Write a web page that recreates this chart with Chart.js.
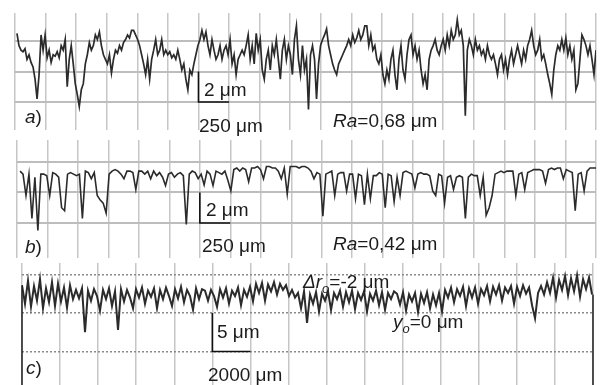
<!DOCTYPE html>
<html>
<head>
<meta charset="utf-8">
<script src="https://cdn.jsdelivr.net/npm/chart.js@4.4.1/dist/chart.umd.min.js"></script>
<style>
  html, body { margin: 0; padding: 0; background: #fff; }
  body { width: 606px; height: 385px; position: relative; overflow: hidden; }
  canvas { position: absolute; left: 0; }
</style>
</head>
<body>
<canvas id="chartA" width="606" height="136" style="top:0px"></canvas>
<canvas id="chartB" width="606" height="126" style="top:136px"></canvas>
<canvas id="chartC" width="606" height="123" style="top:262px"></canvas>
<script>
// profile heights in µm left to right
const profileA = [
  0.5,-0.3,-0.6,-0.7,-0.5,-1.2,-0.9,-1.4,-1.7,-2.5,-3.8,-2.2,
  0.4,-0.6,0.4,-1.1,-0.6,-1.4,-0.9,-1.0,-0.7,-1.1,-0.3,-0.6,0.1,-3.0,-1.2,-0.3,-1.5,-2.8,-3.5,-4.3,-3.2,-2.8,-1.5,-0.9,
  -0.1,-0.6,-0.3,0.4,0.1,0.6,-0.3,-0.9,-1.2,-1.5,-0.9,-2.1,-1.2,-0.6,-0.8,-0.3,-0.6,-0.1,0.1,0.4,0.2,0.7,0.7,0.4,
  0.1,-0.3,-0.9,-1.5,-2.2,-1.2,-2.5,-1.2,-0.6,0.1,-0.9,-0.6,0.1,-0.9,-0.6,-0.9,-0.7,-1.1,-0.9,-1.2,-0.6,-1.2,-1.9,-1.5,
  -2.5,-3.2,-1.9,-2.2,-1.5,-0.9,-0.3,0.1,0.7,0.1,0.6,-0.3,-0.9,0.1,-0.6,-1.2,-0.9,-0.3,-1.2,-0.6,-0.3,-0.9,0.1,-1.5,
  -0.9,-2.2,-1.2,-0.9,-0.6,-0.9,-0.3,0.4,-1.2,-0.3,-1.5,0.5,-0.6,0.1,-1.9,-2.5,-1.2,-0.6,-1.9,-0.3,-0.9,0.1,-1.2,-2.5,
  -0.6,0.1,-1.2,-0.3,-0.9,-2.2,0.1,1.0,-1.2,-2.2,-0.3,
  -1.9,-1.2,-4.5,-0.9,-0.3,-1.2,-3.8,-1.5,-0.3,0.1,0.4,0.8,-0.3,-0.9,-1.5,-1.9,-2.2,-1.5,-1.2,-0.9,-0.6,-0.3,0.1,-0.3,
  0.4,-0.1,0.2,0.7,0.1,0.4,1.0,1.0,-0.3,0.4,-0.6,-0.3,-1.2,-1.5,-0.9,-2.2,-2.8,-1.9,-2.5,-1.2,-0.6,-2.2,-3.2,-1.2,
  -0.3,-1.9,-2.5,-0.9,0.1,0.4,-0.9,-0.3,-1.2,-0.6,-1.9,-2.8,-2.2,-3.2,-1.2,-0.6,-0.3,0.1,-0.6,-0.9,-0.3,0.1,-0.6,0.4,
  -0.3,0.7,0.1,0.4,1.4,0.4,0.7,-0.3,-4.9,-0.6,0.1,-0.3,-0.9,0.1,-0.6,-0.3,-0.9,-0.6,-1.2,-0.3,-0.9,-1.2,-0.9,-1.5,
  -2.2,-1.2,-0.9,-1.9,-1.2,-2.2,-1.2,-0.6,-1.5,-0.9,-0.3,-0.9,-1.5,-0.6,-1.2,-0.3,0.1,0.7,-0.3,-0.9,-0.6,0.1,-1.2,-0.9,
  -1.5,-2.2,-2.8,-3.5,-1.9,-0.9,-0.3,-0.6,0.1,-0.6,0.2,-0.9,-0.3,-1.2,-0.6,-3.2,-2.8,-1.2,0.4,0.1,-0.3,-0.9,-0.3,-1.2,
  -2.2,-0.6
];

const profileB = [
  -0.6,-0.8,-2.2,-0.8,-3.7,-1.0,-4.5,-0.8,-0.8,-0.9,-2.2,-0.7,-0.8,-1.0,-3.0,-3.2,-0.8,-0.7,-0.8,-0.9,-0.8,-3.7,
  -0.6,-0.7,-1.1,-0.7,-2.2,-2.5,-2.7,-3.35,-0.8,-0.6,-0.5,-0.6,-0.8,-1.1,-0.6,-0.6,-0.7,-1.8,-0.6,-0.6,-0.8,-0.6,
  -1.1,-0.6,-0.9,-0.7,-1.0,-1.55,-0.8,-0.7,-1.0,-0.8,-0.7,-0.9,-4.1,-0.8,-0.6,-0.7,-1.1,-0.8,-1.5,-0.6,-0.8,-1.55,
  -0.6,-0.7,-0.8,-0.6,-1.2,-1.9,-0.5,-0.4,-0.6,-0.4,-0.5,-1.3,-0.4,-0.4,-0.3,-0.5,-1.1,-0.3,-0.3,-0.4,-0.4,-0.6,
  -1.1,-0.4,-2.1,-0.3,-0.3,-0.3,-0.4,-0.3,
  -0.3,-0.4,-0.6,-1.1,-0.7,-0.8,-3.55,-0.8,-0.7,-0.6,-2.2,-0.8,-0.7,-0.7,-1.9,-0.8,-0.8,-2.4,-0.8,-0.9,-2.8,-0.8,
  -2.4,-0.9,-0.9,-0.7,-0.8,-3.0,-0.8,-0.9,-2.6,-1.0,-2.2,-0.7,-0.6,-0.7,-0.8,-1.7,-0.8,-0.7,-0.8,-0.8,-0.9,-1.9,
  -2.2,-0.8,-0.9,-2.7,-1.0,-0.9,-1.8,-1.0,-0.9,-1.0,-3.7,-1.0,-0.8,-0.9,-0.9,-2.2,-1.0,-3.5,-3.0,-2.2,-0.8,-0.7,
  -0.6,-0.7,-0.6,-0.6,-0.6,-2.2,-0.8,-0.7,-1.8,-0.7,-0.6,-0.5,-0.5,-0.5,-0.6,-1.4,-0.5,-0.4,-0.5,-0.4,-0.4,-1.1,
  -0.5,-0.6,-0.7,-3.2,-0.8,-0.7,-1.9,-0.6,-0.4,-0.4,-0.4
];

const profileC = [
  3.6,1.2,4.2,0.8,3.5,1.6,4.4,0.6,3.2,1.4,4.0,0.9,3.8,1.5,3.3,0.7,3.6,1.8,
  3.0,1.9,3.2,-2.5,2.9,1.6,3.1,2.2,0.3,3.0,1.8,3.2,0.9,2.8,-2.2,3.1,1.5,3.0,2.0,0.6,
  3.1,2.0,3.3,1.2,2.9,2.1,3.2,0.6,3.0,1.8,3.3,2.2,0.9,3.1,1.9,3.4,1.4,3.0,2.2,0.4,3.2,1.8,3.1,
  2.9,1.6,3.0,2.2,0.8,3.1,2.0,3.2,1.2,2.9,2.2,3.3,1.0,3.0,2.1,3.4,1.5,
  3.8,2.6,3.9,1.6,3.7,2.8,4.0,2.4,3.8,3.0,3.6,2.2,
  3.0,2.0,2.6,0.6,2.8,-1.3,2.4,1.2,2.7,0.2,2.5,1.6,2.8,0.4,2.6,1.8,2.9,0.8,
  2.7,1.4,2.9,0.5,2.6,1.7,2.8,0.2,2.5,1.6,2.9,1.0,2.7,0.4,2.6,1.8,2.8,
  2.5,1.1,2.7,0.3,2.4,1.5,2.6,0.1,2.5,1.3,2.7,0.6,2.4,1.0,2.6,0.2,
  3.0,2.0,3.3,1.4,3.1,2.2,3.4,0.9,3.2,2.0,3.3,1.2,3.1,2.3,3.5,1.5,
  3.4,2.4,3.6,1.6,3.3,2.6,3.5,1.2,3.4,2.2,3.6,2.5,3.3,1.0,-0.7,2.6,3.5,2.4,
  4.0,2.6,4.6,2.0,4.3,3.0,4.8,2.3,4.5,2.8,4.9,2.1,4.4,3.1,4.6,2.4
];

// horizontal grid levels (µm) and vertical grid spacing (µm along the profile)
const levelsAB = [0, -2, -4];
const levelsC = [5, 0, -5];
const stepAB = 250, lengthAB = 4750;
const stepC = 2000, lengthC = 30000;

const FONT = '"Liberation Sans", Arial, sans-serif';

function gridValues(step, len) {
  const out = [];
  for (let v = 0; v <= len; v += step) out.push(v);
  return out;
}

function textRuns(ctx, x, y, parts) {
  parts.forEach(p => {
    ctx.font = (p.italic ? 'italic ' : '') + (p.size || 19) + 'px ' + FONT;
    ctx.fillText(p.t, x, y + (p.dy || 0));
    x += ctx.measureText(p.t).width;
  });
}

function scaleBar(chart, bar) {
  const ctx = chart.ctx, xs = chart.scales.x, ys = chart.scales.y;
  const x0 = xs.getPixelForValue(bar.x), x1 = xs.getPixelForValue(bar.x + bar.len);
  const yTop = ys.getPixelForValue(bar.y + bar.h), yBot = ys.getPixelForValue(bar.y);
  ctx.strokeStyle = '#111';
  ctx.lineWidth = 1.6;
  ctx.beginPath();
  ctx.moveTo(x0, yTop);
  ctx.lineTo(x0, yBot);
  ctx.lineTo(x1, yBot);
  ctx.stroke();
}

function makeProfile(id, o) {
  const n = o.values.length;
  const pts = o.values.map((v, i) => ({ x: o.xStart + (o.xEnd - o.xStart) * i / (n - 1), y: v }));
  return new Chart(document.getElementById(id), {
    type: 'line',
    data: { datasets: [{ data: pts, borderColor: '#2b2b2b', borderWidth: o.lineWidth, pointRadius: 0, tension: 0 }] },
    options: {
      responsive: false,
      animation: false,
      events: [],
      layout: { padding: o.padding },
      plugins: { legend: { display: false }, tooltip: { enabled: false } },
      scales: {
        x: {
          type: 'linear', min: 0, max: o.len,
          afterBuildTicks: s => { s.ticks = gridValues(o.step, o.len).map(v => ({ value: v })); },
          ticks: { display: false },
          grid: { color: '#c6c6c6', lineWidth: 1.5, drawTicks: false },
          border: { display: false }
        },
        y: {
          type: 'linear', min: o.yMin, max: o.yMax,
          afterBuildTicks: s => { s.ticks = o.levels.map(v => ({ value: v })); },
          ticks: { display: false },
          grid: { color: o.hColor, lineWidth: o.hWidth, drawTicks: false },
          border: { display: false, dash: o.hDash }
        }
      }
    },
    plugins: [{ id: 'notes', afterDraw: chart => {
      const ctx = chart.ctx;
      ctx.save();
      if (o.frame) o.frame(chart);
      scaleBar(chart, o.bar);
      ctx.fillStyle = '#1c1c1c';
      o.labels.forEach(l => textRuns(ctx, l.x, l.y, l.parts));
      ctx.restore();
    } }]
  });
}

makeProfile('chartA', {
  values: profileA, xStart: 16, xEnd: 4750, len: lengthAB, step: stepAB,
  levels: levelsAB, yMin: -5.84, yMax: 1.84, lineWidth: 1.7,
  padding: { left: 15, right: 10, top: 13, bottom: 6 },
  hColor: '#bdbdbd', hWidth: 2, hDash: [],
  bar: { x: 1500, len: 250, y: -4, h: 2 },
  labels: [
    { x: 25, y: 123, parts: [{ t: 'a', italic: true }, { t: ')' }] },
    { x: 204, y: 96, parts: [{ t: '2 μm' }] },
    { x: 199, y: 132, parts: [{ t: '250 μm' }] },
    { x: 333, y: 127, parts: [{ t: 'Ra', italic: true }, { t: '=0,68 μm' }] }
  ]
});

makeProfile('chartB', {
  values: profileB, xStart: 25, xEnd: 4750, len: lengthAB, step: stepAB,
  levels: levelsAB, yMin: -6.30, yMax: 1.44, lineWidth: 1.6,
  padding: { left: 17, right: 10, top: 4, bottom: 4 },
  hColor: '#bdbdbd', hWidth: 2, hDash: [],
  bar: { x: 1500, len: 250, y: -4, h: 2 },
  labels: [
    { x: 25, y: 117, parts: [{ t: 'b', italic: true }, { t: ')' }] },
    { x: 206, y: 80, parts: [{ t: '2 μm' }] },
    { x: 202, y: 116, parts: [{ t: '250 μm' }] },
    { x: 333, y: 114, parts: [{ t: 'Ra', italic: true }, { t: '=0,42 μm' }] }
  ]
});

makeProfile('chartC', {
  values: profileC, xStart: 0, xEnd: 29950, len: lengthC, step: stepC,
  levels: levelsC, yMin: -9.35, yMax: 6.49, lineWidth: 2,
  padding: { left: 22, right: 13, top: 1, bottom: 0 },
  hColor: '#8a8a8a', hWidth: 1.5, hDash: [2, 2],
  bar: { x: 10000, len: 2000, y: -5, h: 5 },
  frame: chart => {
    const ctx = chart.ctx, xs = chart.scales.x, ys = chart.scales.y;
    ctx.strokeStyle = '#222';
    ctx.lineWidth = 1.5;
    ctx.beginPath();
    ctx.moveTo(xs.getPixelForValue(0), ys.getPixelForValue(profileC[0]));
    ctx.lineTo(xs.getPixelForValue(0), ys.getPixelForValue(ys.min));
    ctx.moveTo(xs.getPixelForValue(lengthC), ys.getPixelForValue(profileC[profileC.length - 1]));
    ctx.lineTo(xs.getPixelForValue(lengthC), ys.getPixelForValue(ys.min));
    ctx.stroke();
  },
  labels: [
    { x: 26, y: 112, parts: [{ t: 'c', italic: true }, { t: ')' }] },
    { x: 217, y: 76, parts: [{ t: '5 μm' }] },
    { x: 208, y: 119, parts: [{ t: '2000 μm' }] },
    { x: 303, y: 26, parts: [{ t: 'Δr', italic: true }, { t: 'o', italic: true, size: 13, dy: 5 }, { t: '=-2 μm' }] },
    { x: 393, y: 66, parts: [{ t: 'y', italic: true }, { t: 'o', italic: true, size: 13, dy: 5 }, { t: '=0 μm' }] }
  ]
});
</script>
</body>
</html>
